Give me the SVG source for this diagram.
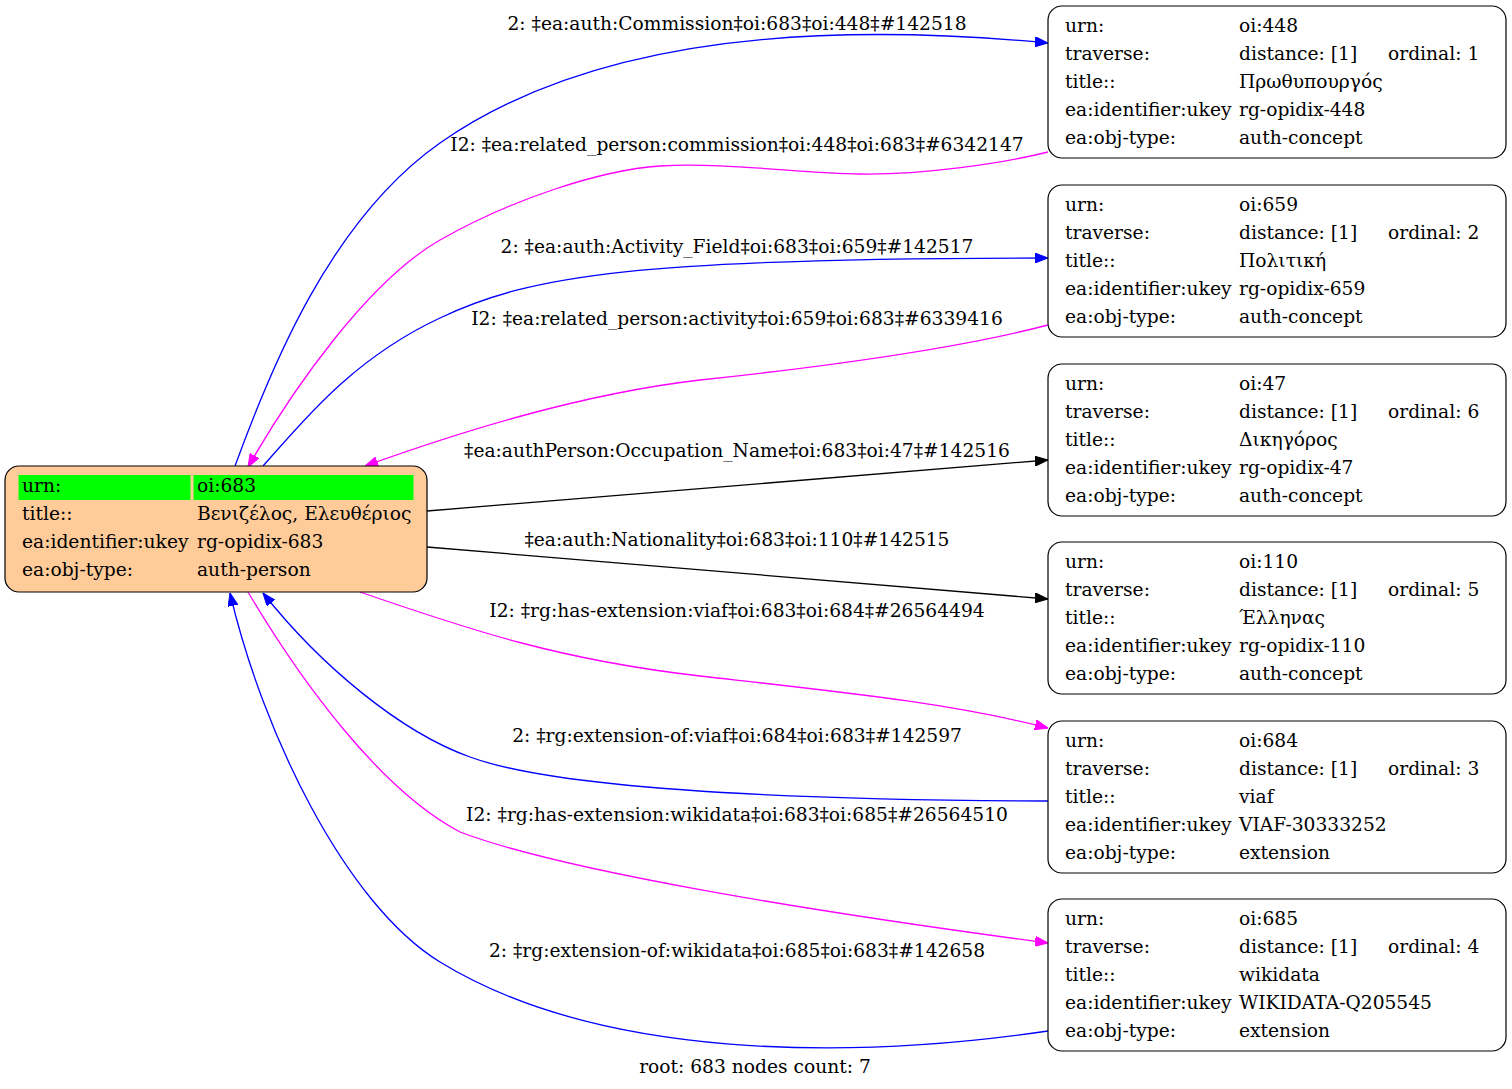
<svg xmlns="http://www.w3.org/2000/svg" width="1512" height="1089" viewBox="0 0 1512 1089">
<style>
text{font-family:"DejaVu Serif","Liberation Serif",serif;font-size:18.67px;fill:#000}
.lbl{text-anchor:middle}
.box{fill:#fff;stroke:#000;stroke-width:1.2}
.root{fill:#ffcc99;stroke:#000;stroke-width:1.2}
.e{fill:none;stroke-width:1.3}
.b{stroke:#0000ff}
.m{stroke:#ff00ff}
.k{stroke:#000}
</style>
<defs>
<marker id="ab" viewBox="0 0 13 10" refX="13" refY="5" markerWidth="13" markerHeight="10" markerUnits="userSpaceOnUse" orient="auto"><path d="M0,0 L13,5 L0,10 z" fill="#0000ff" stroke="#0000ff"/></marker>
<marker id="am" viewBox="0 0 13 10" refX="13" refY="5" markerWidth="13" markerHeight="10" markerUnits="userSpaceOnUse" orient="auto"><path d="M0,0 L13,5 L0,10 z" fill="#ff00ff" stroke="#ff00ff"/></marker>
<marker id="ak" viewBox="0 0 13 10" refX="13" refY="5" markerWidth="13" markerHeight="10" markerUnits="userSpaceOnUse" orient="auto"><path d="M0,0 L13,5 L0,10 z" fill="#000" stroke="#000"/></marker>
</defs>
<rect width="1512" height="1089" fill="#fff"/>
<g id="connectors">
<path class="e b" marker-end="url(#ab)" d="M235,466 C270,370 330,220 440,143 C530,80 700,10 1048,43"/>
<text class="lbl" x="737" y="30">2: ‡ea:auth:Commission‡oi:683‡oi:448‡#142518</text>
<path class="e m" marker-end="url(#am)" d="M1048,152 C1000,164 920,175 860,174 C800,173 720,162 660,166 C600,170 510,200 440,240 C370,280 295,385 248,467"/>
<text class="lbl" x="737" y="151">I2: ‡ea:related_person:commission‡oi:448‡oi:683‡#6342147</text>
<path class="e b" marker-end="url(#ab)" d="M263,466 C300,425 350,360 440,318 C530,275 640,258 1048,258"/>
<text class="lbl" x="737" y="253">2: ‡ea:auth:Activity_Field‡oi:683‡oi:659‡#142517</text>
<path class="e m" marker-end="url(#am)" d="M1048,325 C960,348 840,365 700,380 C580,394 460,432 365,466"/>
<text class="lbl" x="737" y="325">I2: ‡ea:related_person:activity‡oi:659‡oi:683‡#6339416</text>
<path class="e k" marker-end="url(#ak)" d="M427,511 L1048,460"/>
<text class="lbl" x="737" y="457">‡ea:authPerson:Occupation_Name‡oi:683‡oi:47‡#142516</text>
<path class="e k" marker-end="url(#ak)" d="M427,547 L1048,599"/>
<text class="lbl" x="737" y="546">‡ea:auth:Nationality‡oi:683‡oi:110‡#142515</text>
<path class="e m" marker-end="url(#am)" d="M360,592 C470,630 560,660 700,676 C850,693 950,703 1048,728"/>
<text class="lbl" x="737" y="617">I2: ‡rg:has-extension:viaf‡oi:683‡oi:684‡#26564494</text>
<path class="e b" marker-end="url(#ab)" d="M1048,801 C800,800 560,790 470,757 C400,732 320,665 263,593"/>
<text class="lbl" x="737" y="742">2: ‡rg:extension-of:viaf‡oi:684‡oi:683‡#142597</text>
<path class="e m" marker-end="url(#am)" d="M248,592 C300,680 380,790 460,832 C560,870 800,910 1048,943"/>
<text class="lbl" x="737" y="821">I2: ‡rg:has-extension:wikidata‡oi:683‡oi:685‡#26564510</text>
<path class="e b" marker-end="url(#ab)" d="M1048,1031 C850,1060 600,1060 440,962 C344,903 262,730 230,593"/>
<text class="lbl" x="737" y="957">2: ‡rg:extension-of:wikidata‡oi:685‡oi:683‡#142658</text>
</g>
<g id="root683">
<rect class="root" x="5" y="466" width="422" height="126" rx="14"/>
<rect x="18.5" y="475" width="172" height="25" fill="#00ff00"/>
<rect x="193.5" y="475" width="220" height="25" fill="#00ff00"/>
<text x="22" y="492">urn:</text><text x="197" y="492">oi:683</text>
<text x="22" y="520">title::</text><text x="197" y="520">Βενιζέλος, Ελευθέριος</text>
<text x="22" y="548">ea:identifier:ukey</text><text x="197" y="548">rg-opidix-683</text>
<text x="22" y="576">ea:obj-type:</text><text x="197" y="576">auth-person</text>
</g>
<g id="node448">
<rect class="box" x="1048" y="6" width="458" height="152" rx="14"/>
<text x="1065" y="32">urn:</text><text x="1239" y="32">oi:448</text>
<text x="1065" y="60">traverse:</text><text x="1239" y="60">distance: [1]</text><text x="1388" y="60">ordinal: 1</text>
<text x="1065" y="88">title::</text><text x="1239" y="88">Πρωθυπουργός</text>
<text x="1065" y="116">ea:identifier:ukey</text><text x="1239" y="116">rg-opidix-448</text>
<text x="1065" y="144">ea:obj-type:</text><text x="1239" y="144">auth-concept</text>
</g>
<g id="node659">
<rect class="box" x="1048" y="185" width="458" height="152" rx="14"/>
<text x="1065" y="211">urn:</text><text x="1239" y="211">oi:659</text>
<text x="1065" y="239">traverse:</text><text x="1239" y="239">distance: [1]</text><text x="1388" y="239">ordinal: 2</text>
<text x="1065" y="267">title::</text><text x="1239" y="267">Πολιτική</text>
<text x="1065" y="295">ea:identifier:ukey</text><text x="1239" y="295">rg-opidix-659</text>
<text x="1065" y="323">ea:obj-type:</text><text x="1239" y="323">auth-concept</text>
</g>
<g id="node47">
<rect class="box" x="1048" y="364" width="458" height="152" rx="14"/>
<text x="1065" y="390">urn:</text><text x="1239" y="390">oi:47</text>
<text x="1065" y="418">traverse:</text><text x="1239" y="418">distance: [1]</text><text x="1388" y="418">ordinal: 6</text>
<text x="1065" y="446">title::</text><text x="1239" y="446">Δικηγόρος</text>
<text x="1065" y="474">ea:identifier:ukey</text><text x="1239" y="474">rg-opidix-47</text>
<text x="1065" y="502">ea:obj-type:</text><text x="1239" y="502">auth-concept</text>
</g>
<g id="node110">
<rect class="box" x="1048" y="542" width="458" height="152" rx="14"/>
<text x="1065" y="568">urn:</text><text x="1239" y="568">oi:110</text>
<text x="1065" y="596">traverse:</text><text x="1239" y="596">distance: [1]</text><text x="1388" y="596">ordinal: 5</text>
<text x="1065" y="624">title::</text><text x="1239" y="624">Έλληνας</text>
<text x="1065" y="652">ea:identifier:ukey</text><text x="1239" y="652">rg-opidix-110</text>
<text x="1065" y="680">ea:obj-type:</text><text x="1239" y="680">auth-concept</text>
</g>
<g id="node684">
<rect class="box" x="1048" y="721" width="458" height="152" rx="14"/>
<text x="1065" y="747">urn:</text><text x="1239" y="747">oi:684</text>
<text x="1065" y="775">traverse:</text><text x="1239" y="775">distance: [1]</text><text x="1388" y="775">ordinal: 3</text>
<text x="1065" y="803">title::</text><text x="1239" y="803">viaf</text>
<text x="1065" y="831">ea:identifier:ukey</text><text x="1239" y="831">VIAF-30333252</text>
<text x="1065" y="859">ea:obj-type:</text><text x="1239" y="859">extension</text>
</g>
<g id="node685">
<rect class="box" x="1048" y="899" width="458" height="152" rx="14"/>
<text x="1065" y="925">urn:</text><text x="1239" y="925">oi:685</text>
<text x="1065" y="953">traverse:</text><text x="1239" y="953">distance: [1]</text><text x="1388" y="953">ordinal: 4</text>
<text x="1065" y="981">title::</text><text x="1239" y="981">wikidata</text>
<text x="1065" y="1009">ea:identifier:ukey</text><text x="1239" y="1009">WIKIDATA-Q205545</text>
<text x="1065" y="1037">ea:obj-type:</text><text x="1239" y="1037">extension</text>
</g>
<text class="lbl" x="755" y="1073">root: 683 nodes count: 7</text>
</svg>
